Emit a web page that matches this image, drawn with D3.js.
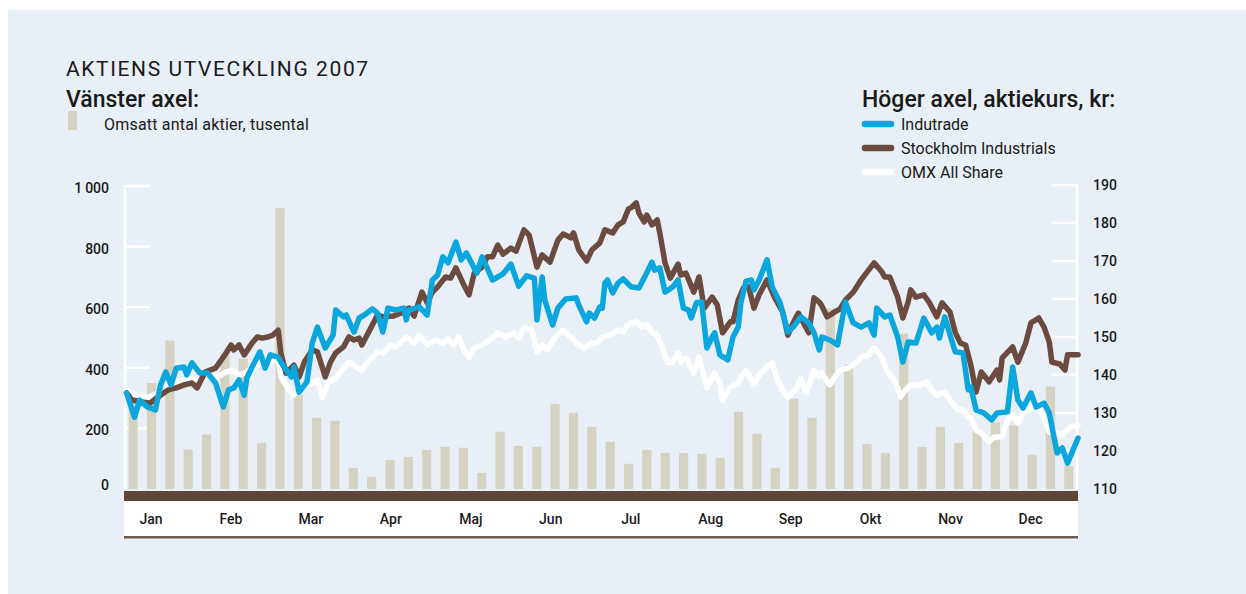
<!DOCTYPE html>
<html>
<head>
<meta charset="utf-8">
<script src="https://cdn.jsdelivr.net/npm/d3@7"></script>
<style>
  body { margin: 0; background: #fff; }
  svg text { font-family: Roboto, "DejaVu Sans", sans-serif; fill: #1a1a1a; }
</style>
</head>
<body>
<svg id="chart" width="1246" height="594"></svg>
<script>
// Weekly volume, thousands of shares (left axis)
var volume = [310, 350, 490, 130, 180, 450, 430, 152, 927, 310, 235, 225, 70,
              40, 96, 106, 129, 139, 136, 53, 189, 142, 139, 281, 252, 205,
              156, 83, 129, 119, 119, 116, 103, 255, 182, 70, 298, 235, 596,
              411, 149, 119, 513, 139, 205, 152, 192, 220, 210, 113, 338, 76];

var months = ["Jan", "Feb", "Mar", "Apr", "Maj", "Jun", "Jul", "Aug", "Sep", "Okt", "Nov", "Dec"];
var leftTicks = [0, 200, 400, 600, 800, 1000];
var rightTicks = [110, 120, 130, 140, 150, 160, 170, 180, 190];

// Share prices, kr (right axis): [day of year, price]
var indutrade = [[1,135.3],[4,128.9],[6,133.4],[9,131.6],[12,130.8],[14,137.4],[16,140.8],[18,137.4],[20,141.8],[23,142.1],[24,140.0],[26,143.2],[29,140.5],[32,140.5],[35,137.9],[38,131.6],[40,136.1],[42,136.6],[44,138.7],[46,134.7],[47,139.2],[49,142.1],[52,146.1],[54,141.8],[56,145.3],[59,144.7],[60,143.4],[64,139.5],[65,142.1],[67,135.5],[70,138.2],[72,148.4],[74,152.6],[77,147.1],[80,150.5],[81,157.1],[84,155.3],[85,155.8],[88,151.3],[90,155.0],[92,155.8],[95,157.4],[97,156.3],[99,151.3],[101,157.6],[104,157.1],[107,157.6],[108,154.5],[109,157.1],[113,157.9],[116,155.8],[118,165.0],[120,166.3],[122,171.1],[124,169.5],[127,175.0],[129,170.3],[131,172.1],[135,166.8],[137,171.1],[141,165.0],[145,166.6],[148,169.2],[151,163.4],[154,166.1],[157,165.5],[158,154.5],[160,165.8],[161,159.7],[164,153.2],[166,157.6],[169,160.0],[173,160.3],[174,158.4],[177,154.0],[178,156.3],[180,155.0],[182,157.9],[183,157.6],[184,164.2],[185,165.0],[187,161.6],[189,164.2],[191,165.3],[194,163.2],[197,162.9],[199,165.5],[202,169.7],[203,167.6],[205,168.2],[207,161.8],[210,163.2],[212,165.0],[214,157.6],[216,157.1],[217,155.0],[219,159.0],[221,159.2],[223,147.1],[225,150.0],[226,151.1],[228,145.3],[231,144.0],[233,150.0],[235,152.6],[236,159.0],[238,164.7],[240,165.0],[241,162.4],[243,165.0],[246,170.3],[248,163.2],[251,159.0],[254,151.3],[256,152.6],[259,155.3],[262,153.7],[264,151.1],[266,146.6],[267,150.0],[270,149.2],[273,147.9],[276,159.2],[279,153.7],[282,152.6],[285,153.7],[287,150.5],[288,157.6],[291,155.3],[293,155.8],[296,150.0],[298,143.4],[300,148.7],[303,148.4],[306,155.0],[309,151.1],[311,152.6],[312,149.7],[314,155.3],[318,146.1],[321,145.8],[323,136.1],[324,136.8],[326,130.8],[329,130.0],[332,128.2],[334,130.0],[338,130.3],[340,142.1],[342,133.4],[344,131.3],[347,135.3],[349,131.6],[352,132.6],[354,130.0],[357,119.5],[359,120.8],[361,116.8],[365,123.4]];

var stockholmInd = [[1,135.3],[3,133.4],[7,132.9],[10,132.6],[13,134.2],[17,136.1],[20,136.6],[23,137.4],[26,137.9],[28,136.6],[31,140.8],[35,141.8],[38,144.7],[41,147.9],[42,146.6],[44,147.9],[46,145.3],[49,148.4],[51,150.0],[53,149.7],[55,150.0],[57,150.5],[59,151.8],[60,145.8],[62,140.5],[65,142.6],[67,139.5],[69,143.4],[72,146.6],[74,146.1],[77,139.5],[79,143.4],[81,145.8],[84,147.4],[86,150.0],[88,149.2],[90,149.7],[91,147.9],[94,151.8],[97,155.8],[99,155.3],[103,155.5],[106,156.3],[109,157.6],[111,155.5],[114,161.8],[116,159.0],[118,161.8],[120,163.2],[123,165.8],[125,165.5],[127,168.2],[130,163.7],[132,161.1],[134,166.8],[137,168.4],[139,171.1],[141,171.1],[143,174.2],[145,171.8],[148,173.4],[150,172.6],[153,178.2],[155,176.8],[158,168.4],[160,171.6],[163,169.7],[166,175.5],[168,177.1],[171,176.1],[172,177.4],[174,172.9],[177,170.0],[179,172.9],[182,174.7],[184,178.2],[187,177.4],[189,179.5],[191,180.3],[193,183.7],[194,184.0],[196,185.3],[197,182.6],[199,180.3],[200,182.1],[202,179.5],[204,180.8],[205,177.4],[207,169.5],[209,165.5],[212,169.2],[213,166.3],[215,166.8],[218,161.8],[220,165.8],[222,157.6],[225,160.5],[227,158.4],[229,151.1],[232,154.0],[233,154.0],[235,159.7],[237,162.9],[239,163.2],[241,157.6],[243,161.1],[246,165.0],[249,160.3],[252,156.6],[254,150.5],[256,153.7],[258,156.3],[260,153.7],[262,151.1],[264,160.3],[266,159.2],[267,158.2],[269,155.3],[272,156.6],[274,157.4],[276,159.7],[279,161.8],[282,165.0],[284,166.8],[287,169.5],[290,167.1],[291,165.8],[293,165.8],[296,160.5],[298,155.0],[300,159.2],[301,162.4],[303,160.5],[306,161.1],[308,159.2],[311,155.3],[313,159.0],[316,156.6],[318,151.3],[320,148.4],[322,147.9],[324,142.6],[326,135.5],[328,140.8],[331,138.2],[334,141.3],[335,138.7],[336,144.5],[340,147.4],[342,143.4],[345,148.4],[347,153.7],[350,155.0],[352,152.6],[354,148.7],[355,143.4],[358,142.9],[360,141.3],[361,145.3],[365,145.3]];

var omx = [[1,136.1],[5,134.5],[9,134.0],[13,135.3],[16,137.4],[20,138.2],[24,138.7],[28,139.2],[30,140.5],[33,140.0],[36,139.5],[39,140.8],[42,141.3],[44,140.0],[47,140.8],[50,142.6],[53,143.4],[56,143.2],[59,144.7],[60,139.5],[63,136.1],[65,134.7],[68,136.8],[71,137.4],[74,138.7],[76,134.0],[78,137.9],[81,139.2],[84,141.8],[86,143.4],[89,142.1],[91,141.1],[93,143.2],[97,146.1],[99,145.8],[102,147.9],[104,147.4],[108,150.0],[111,148.4],[113,150.5],[116,147.9],[119,149.2],[122,148.4],[124,149.5],[126,147.9],[128,150.0],[130,146.6],[132,144.7],[134,147.1],[137,147.9],[140,149.2],[143,151.1],[146,150.0],[149,151.1],[151,149.7],[153,152.6],[156,151.8],[158,146.1],[160,147.9],[162,146.6],[165,150.0],[168,151.8],[171,150.0],[173,148.4],[176,147.1],[179,148.4],[181,148.4],[183,150.0],[186,150.5],[189,151.8],[191,151.3],[193,153.4],[196,154.0],[198,152.6],[200,153.2],[202,151.3],[204,150.5],[206,147.1],[208,143.2],[210,143.4],[212,145.8],[213,143.4],[215,144.5],[218,140.5],[220,144.7],[223,136.6],[226,140.5],[228,137.9],[229,133.4],[232,136.8],[235,137.9],[236,139.5],[238,141.3],[241,137.4],[243,140.0],[246,142.1],[248,143.2],[250,138.7],[252,136.1],[254,134.0],[257,136.1],[259,139.2],[261,135.3],[264,141.3],[266,139.5],[267,140.5],[270,137.4],[272,139.5],[274,141.3],[277,141.8],[280,143.2],[282,144.7],[285,145.3],[287,147.1],[290,144.7],[292,140.8],[294,139.5],[296,136.6],[297,134.2],[299,136.1],[301,137.4],[305,137.4],[307,138.2],[309,136.1],[311,134.7],[314,135.5],[316,133.4],[319,130.8],[321,130.8],[323,128.9],[324,128.7],[326,125.5],[328,124.7],[331,122.4],[333,123.7],[336,123.7],[338,128.2],[340,129.5],[342,127.4],[344,130.0],[347,131.3],[349,132.6],[352,128.9],[354,125.0],[357,124.7],[359,124.2],[362,126.3],[365,126.8]];

var series = [
  {name: "OMX All Share", data: omx, color: "#ffffff"},
  {name: "Stockholm Industrials", data: stockholmInd, color: "#6b4b3f"},
  {name: "Indutrade", data: indutrade, color: "#0aa6dd"}
];

var svg = d3.select("#chart");
var plotLeft = 125, plotRight = 1077, plotTop = 186, plotBottom = 489;

// panel background
svg.append("rect").attr("x", 8).attr("y", 10).attr("width", 1238).attr("height", 584).attr("fill", "#e8eff6");

var yLeft = d3.scaleLinear().domain([0, 1000]).range([plotBottom, plotTop]);
var yRight = d3.scaleLinear().domain([110, 190]).range([plotBottom, 185]);
var xDay = d3.scaleLinear().domain([0, 365]).range([124, 1078]);
var xWeek = d3.scaleBand().domain(d3.range(volume.length)).range([124, 1078]).paddingInner(0.5).paddingOuter(0.25);
var xMonth = d3.scalePoint().domain(months).range([151, 1030.5]);

// white axis lines and ticks
var axisG = svg.append("g").attr("stroke", "#fff").attr("stroke-width", 2.5);
axisG.append("line").attr("x1", plotLeft).attr("x2", plotLeft).attr("y1", plotTop - 1).attr("y2", plotBottom);
axisG.selectAll(".lt").data(leftTicks.slice(1)).enter().append("line")
  .attr("x1", plotLeft).attr("x2", plotLeft + 25)
  .attr("y1", function(d) { return yLeft(d); }).attr("y2", function(d) { return yLeft(d); });
axisG.append("line").attr("x1", plotRight).attr("x2", plotRight).attr("y1", 184).attr("y2", plotBottom);
axisG.selectAll(".rt").data(rightTicks.slice(1)).enter().append("line")
  .attr("x1", plotRight - 25).attr("x2", plotRight)
  .attr("y1", function(d) { return yRight(d); }).attr("y2", function(d) { return yRight(d); });

// volume bars
svg.append("g").selectAll("rect").data(volume).enter().append("rect")
  .attr("x", function(d, i) { return xWeek(i); })
  .attr("width", xWeek.bandwidth())
  .attr("y", function(d) { return yLeft(d); })
  .attr("height", function(d) { return plotBottom - yLeft(d); })
  .attr("fill", "#d5d2c2");

// price lines
var line = d3.line()
  .x(function(d) { return xDay(d[0]); })
  .y(function(d) { return yRight(d[1]); });

svg.append("g").selectAll("path").data(series).enter().append("path")
  .attr("d", function(d) { return line(d.data); })
  .attr("fill", "none")
  .attr("stroke", function(d) { return d.color; })
  .attr("stroke-width", 5.5)
  .attr("stroke-linejoin", "round")
  .attr("stroke-linecap", "round");

// month band
svg.append("rect").attr("x", 124).attr("y", 491).attr("width", 954).attr("height", 10).attr("fill", "#5e453a");
svg.append("rect").attr("x", 124).attr("y", 501).attr("width", 954).attr("height", 35).attr("fill", "#ffffff");
svg.append("rect").attr("x", 124).attr("y", 536).attr("width", 954).attr("height", 2.5).attr("fill", "#6e5a50");

svg.append("g").selectAll("text").data(months).enter().append("text")
  .attr("x", function(d) { return xMonth(d); })
  .attr("y", 524)
  .attr("text-anchor", "middle")
  .attr("font-size", 14)
  .attr("font-weight", 500)
  .text(function(d) { return d; });

// axis labels
var fmt = function(d) { return d >= 1000 ? "1\u2009000" : String(d); };
svg.append("g").selectAll("text").data(leftTicks).enter().append("text")
  .attr("x", 109)
  .attr("y", function(d) { return yLeft(d) + (d === 0 ? 1 : 7); })
  .attr("text-anchor", "end")
  .attr("font-size", 14)
  .attr("font-weight", 500)
  .text(fmt);

svg.append("g").selectAll("text").data(rightTicks).enter().append("text")
  .attr("x", 1093)
  .attr("y", function(d) { return yRight(d) + 5; })
  .attr("font-size", 14)
  .attr("font-weight", 500)
  .text(function(d) { return d; });

// titles
svg.append("text").attr("x", 66).attr("y", 76).attr("font-size", 21)
  .attr("letter-spacing", 1.6).text("AKTIENS UTVECKLING 2007");
svg.append("text").attr("x", 66).attr("y", 107).attr("font-size", 23).attr("font-weight", 500)
  .text("V\u00e4nster axel:");
svg.append("rect").attr("x", 68).attr("y", 111).attr("width", 9).attr("height", 19).attr("fill", "#d5d2c2");
svg.append("text").attr("x", 104).attr("y", 130).attr("font-size", 16)
  .attr("letter-spacing", 0.2).text("Omsatt antal aktier, tusental");

svg.append("text").attr("x", 862).attr("y", 107).attr("font-size", 23).attr("font-weight", 500)
  .text("H\u00f6ger axel, aktiekurs, kr:");

var legend = svg.append("g").selectAll("g").data(series.slice().reverse()).enter().append("g")
  .attr("transform", function(d, i) { return "translate(0," + (124 + i * 24) + ")"; });
legend.append("line").attr("x1", 865).attr("x2", 891).attr("y1", 0).attr("y2", 0)
  .attr("stroke", function(d) { return d.color; }).attr("stroke-width", 6.5).attr("stroke-linecap", "round");
legend.append("text").attr("x", 901).attr("y", 5.5).attr("font-size", 16)
  .text(function(d) { return d.name; });
</script>
</body>
</html>
